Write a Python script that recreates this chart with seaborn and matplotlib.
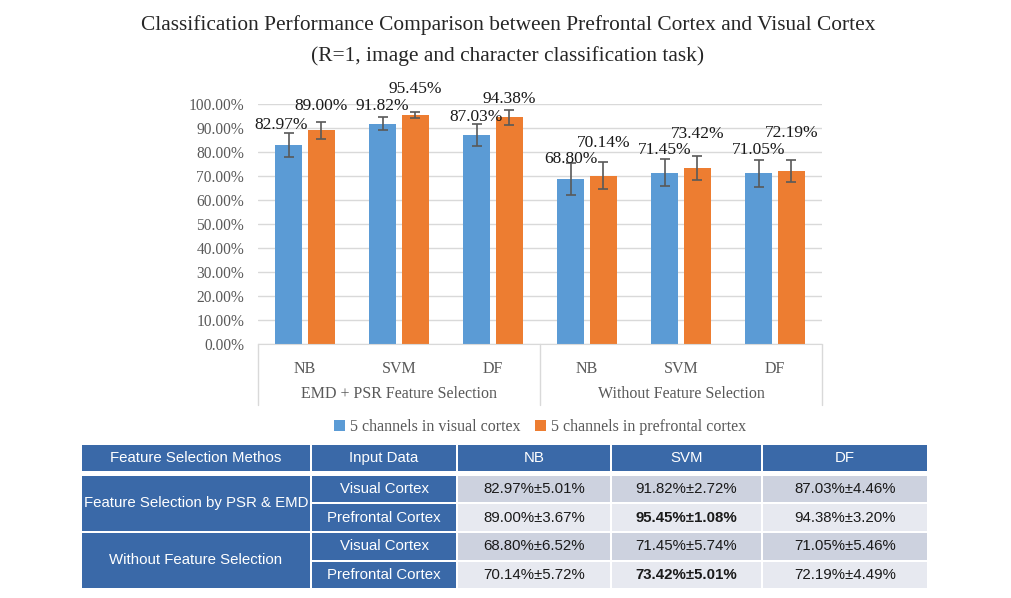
import numpy as np
import pandas as pd
import seaborn as sns
import matplotlib.pyplot as plt
from matplotlib.patches import Rectangle

# Daten
classifiers = ["NB", "SVM", "DF"]
methods = ["EMD + PSR Feature Selection", "Without Feature Selection"]
series = ["5 channels in visual cortex", "5 channels in prefrontal cortex"]

visual_mean = [82.97, 91.82, 87.03, 68.80, 71.45, 71.05]
visual_std = [5.01, 2.72, 4.46, 6.52, 5.74, 5.46]
prefrontal_mean = [89.00, 95.45, 94.38, 70.14, 73.42, 72.19]
prefrontal_std = [3.67, 1.08, 3.20, 5.72, 5.01, 4.49]

# Tabelle
table_header = ["Feature Selection Methos", "Input Data", "NB", "SVM", "DF"]
table_methods = ["Feature Selection by PSR & EMD", "Without Feature Selection"]
table_inputs = ["Visual Cortex", "Prefrontal Cortex"]

blue = "#5B9BD5"
orange = "#ED7D31"
W, H = 1011, 598

rows = []
for i in range(6):
    cat = f"{i}"
    rows.append({"cat": cat, "series": series[0], "value": visual_mean[i] / 100, "std": visual_std[i] / 100})
    rows.append({"cat": cat, "series": series[1], "value": prefrontal_mean[i] / 100, "std": prefrontal_std[i] / 100})
df = pd.DataFrame(rows)

sns.set_style("white")
plt.rcParams["font.family"] = ["Liberation Serif", "DejaVu Serif"]

fig = plt.figure(figsize=(W / 100, H / 100), dpi=100)
ax = fig.add_axes([258 / W, (H - 344) / H, 564 / W, 240 / H])

sns.barplot(data=df, x="cat", y="value", hue="series", palette=[blue, orange], saturation=1,
            width=0.7, gap=0.2, errorbar=None, ax=ax, legend=True, linewidth=0)
bar_containers = list(ax.containers)

# Fehlerbalken an den Balkenmitten
for k, container in enumerate(bar_containers):
    stds = visual_std if k == 0 else prefrontal_std
    means = visual_mean if k == 0 else prefrontal_mean
    xs = [p.get_x() + p.get_width() / 2 for p in container.patches]
    ax.errorbar(xs, [m / 100 for m in means], yerr=[s / 100 for s in stds], fmt="none",
                ecolor="#595959", elinewidth=1.2, capsize=3.5, capthick=1.2, zorder=5)

# Datenbeschriftungen (Abstand ueber dem Balken in Pixeln)
label_offset = [[20, 24], [18, 26], [18, 18], [20, 33], [23, 34], [23, 38]]
for k, container in enumerate(bar_containers):
    means = visual_mean if k == 0 else prefrontal_mean
    for i, p in enumerate(container.patches):
        dx = -5 if (k == 0 and i == 0) else 0
        ax.annotate(f"{means[i]:.2f}%", (p.get_x() + p.get_width() / 2, means[i] / 100),
                    xytext=(dx, label_offset[i][k] * 0.72), textcoords="offset points",
                    ha="center", va="center", fontsize=12.5, color="#1a1a1a", zorder=6)

ax.set_ylim(0, 1.0)
ax.set_xlim(-0.5, 5.5)
ax.set_yticks(np.arange(0, 1.01, 0.1))
ax.set_yticklabels([f"{v * 100:.2f}%" for v in np.arange(0, 1.01, 0.1)], fontsize=11.2, color="#595959")
ax.yaxis.grid(True, color="#D9D9D9", linewidth=1)
ax.set_axisbelow(True)
for s in ["top", "right", "left"]:
    ax.spines[s].set_visible(False)
ax.spines["bottom"].set_color("#D9D9D9")
ax.tick_params(axis="y", length=0, pad=10)
ax.tick_params(axis="x", length=0, pad=12)
ax.set_xticks(range(6))
ax.set_xticklabels(classifiers * 2, fontsize=11.5, color="#595959")
ax.set_xlabel("")
ax.set_ylabel("")

# zweite Ebene der x-Achse
trans = ax.get_xaxis_transform()
for xb in [-0.5, 2.5, 5.5]:
    ax.plot([xb, xb], [0, -61 / 240], transform=trans, color="#D9D9D9", lw=1, clip_on=False)
for j, m in enumerate(methods):
    ax.text(1 + 3 * j, -50 / 240, m, transform=trans, ha="center", va="center",
            fontsize=11.5, color="#595959")

handles, labels = ax.get_legend_handles_labels()
ax.legend(handles, labels, loc="center", bbox_to_anchor=(0.5, -83 / 240), ncol=2, frameon=False,
          fontsize=11.5, handlelength=0.7, handleheight=0.7, handletextpad=0.3, columnspacing=0.9,
          labelcolor="#595959")

fig.text(508 / W, 1 - 25 / H, "Classification Performance Comparison between Prefrontal Cortex and Visual Cortex",
         ha="center", va="center", fontsize=15.4)
fig.text(508 / W, 1 - 56 / H, "(R=1, image and character classification task)",
         ha="center", va="center", fontsize=15.4)

# Tabelle in Pixelkoordinaten
tax = fig.add_axes([0, 0, 1, 1])
tax.set_xlim(0, W)
tax.set_ylim(H, 0)
tax.axis("off")

header_c = "#3A69A8"
dark_c = "#CDD2DF"
light_c = "#E7E9F0"
col_x = [(82, 310), (312, 456), (458, 610), (612, 761), (763, 927)]
row_y = [(476, 502), (504, 531), (533, 560), (562, 588)]
tfont = ["Liberation Sans", "DejaVu Sans"]


def cell(x0, x1, y0, y1, color, txt, tc, bold=False):
    tax.add_patch(Rectangle((x0, y0), x1 - x0, y1 - y0, facecolor=color, edgecolor="none"))
    tax.text((x0 + x1) / 2, (y0 + y1) / 2, txt, ha="center", va="center", fontsize=10.8,
             color=tc, family=tfont, fontweight="bold" if bold else "normal")


for c, h in enumerate(table_header):
    cell(col_x[c][0], col_x[c][1], 445, 471, header_c, h, "white")

means_all = [visual_mean, prefrontal_mean]
stds_all = [visual_std, prefrontal_std]
for g in range(2):
    y0 = row_y[2 * g][0]
    y1 = row_y[2 * g + 1][1]
    cell(col_x[0][0], col_x[0][1], y0, y1, header_c, table_methods[g], "white")
    for r in range(2):
        ry0, ry1 = row_y[2 * g + r]
        cell(col_x[1][0], col_x[1][1], ry0, ry1, header_c, table_inputs[r], "white")
        for c in range(3):
            i = 3 * g + c
            txt = f"{means_all[r][i]:.2f}%±{stds_all[r][i]:.2f}%"
            cell(col_x[c + 2][0], col_x[c + 2][1], ry0, ry1, dark_c if r == 0 else light_c,
                 txt, "#1a1a1a", bold=(r == 1 and c == 1))

fig.savefig("out.png", dpi=100)
